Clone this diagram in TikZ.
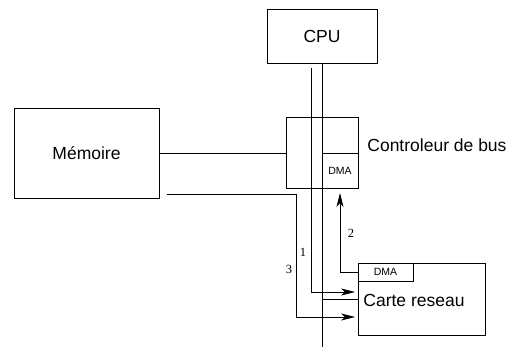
\documentclass[tikz,border=0pt]{standalone}
\usepackage{fontspec}
\setmainfont{Liberation Sans}
\newfontfamily\numfont{Liberation Serif}
\usetikzlibrary{arrows.meta,positioning}

\begin{document}
\begin{tikzpicture}[x=1pt,y=-1pt,line width=0.8pt,
        box/.style={draw,rectangle,inner sep=0pt},
        big/.style={font=\fontsize{17.5}{20}\selectfont},
        small/.style={font=\fontsize{10.5}{12}\selectfont},
        num/.style={font=\numfont\fontsize{12.5}{14}\selectfont,inner sep=0pt},
        arr/.style={-{Stealth[length=14pt,width=7pt,inset=4pt]}}]
        \useasboundingbox (0,0) rectangle (517,350);

        \node[box,big,minimum width=110pt,minimum height=54pt] (cpu) at (322,36) {CPU};
        \node[box,big,minimum width=145pt,minimum height=90pt] (mem) at (86.5,153) {Mémoire};
        \node[box,minimum width=72pt,minimum height=71pt] (ctrl) at (322,153) {};
        \node[box,small,minimum width=36pt,minimum height=35pt] (ctrldma) at (340,171) {DMA};
        \node[big,anchor=west,inner sep=0pt] (ctrltxt) at (367,145) {Controleur de bus};

        \node[box,minimum width=127pt,minimum height=72pt] (carte) at (421.5,299) {};
        \node[box,small,minimum width=55pt,minimum height=18pt] (cartedma) at (385.5,272) {DMA};
        \node[big,inner sep=0pt] (cartetxt) at (414,300) {Carte reseau};

        \coordinate (busend) at (322,347);
        \coordinate (c1) at (311,68);
        \coordinate (a1) at (355,292);
        \coordinate (a2) at (340,193);
        \coordinate (m3) at (167,194);
        \coordinate (k3) at (296,317);
        \coordinate (a3) at (355,317);

        \node[num] (l1) at (303,252) {1};
        \node[num] (l2) at (351,233) {2};
        \node[num] (l3) at (289,269) {3};

        \draw (cpu.south) -- (busend);
        \draw (mem.east) -- (ctrl.west);
        \draw (busend |- carte.west) -- (carte.west);
        \draw[arr] (c1) |- (a1);
        \draw[arr] (cartedma.west) -| (a2);
        \draw[arr] (m3) -| (k3) -- (a3);
\end{tikzpicture}
\end{document}
